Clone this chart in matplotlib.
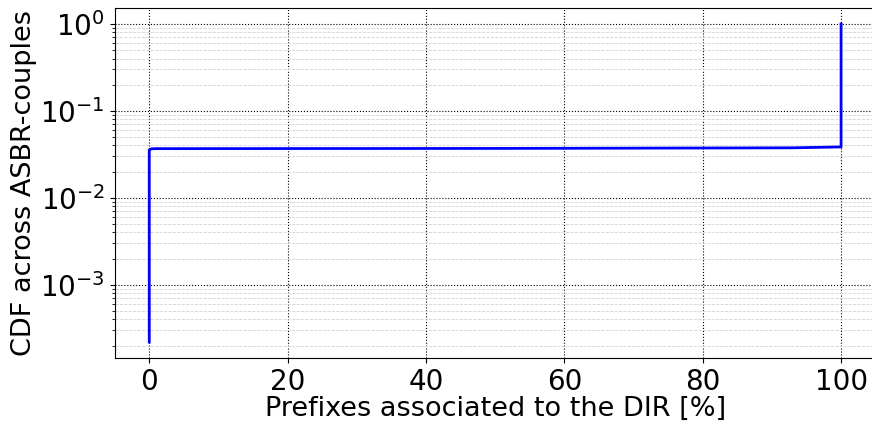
import matplotlib
matplotlib.use("Agg")
import matplotlib.pyplot as plt

# CDF data
x_vals = [0, 0, 0.3, 1.0, 50, 93, 100, 100]
y_vals = [2.2e-4, 0.0355, 0.0366, 0.0368, 0.0370, 0.0376, 0.0385, 1.0]

xlabel = "Prefixes associated to the DIR [%]"
ylabel = "CDF across ASBR-couples"

fig = plt.figure(figsize=(8.72, 4.23), dpi=100)
ax = fig.add_axes([0.1315, 0.154, 0.8727, 0.827])
ax.plot(x_vals, y_vals, color="blue", linewidth=2)
ax.set_yscale("log")
ax.set_xticks([0, 20, 40, 60, 80, 100])
ax.grid(True, which="major", linestyle=":", color="black", linewidth=0.8)
ax.grid(True, which="minor", linestyle="--", color="lightgray", linewidth=0.6)
ax.tick_params(axis="both", which="major", labelsize=20)
ax.set_xlabel(xlabel, fontsize=19.5, labelpad=0)
ax.set_ylabel(ylabel, fontsize=19.5, labelpad=2)
fig.savefig("out.png", dpi=100)
